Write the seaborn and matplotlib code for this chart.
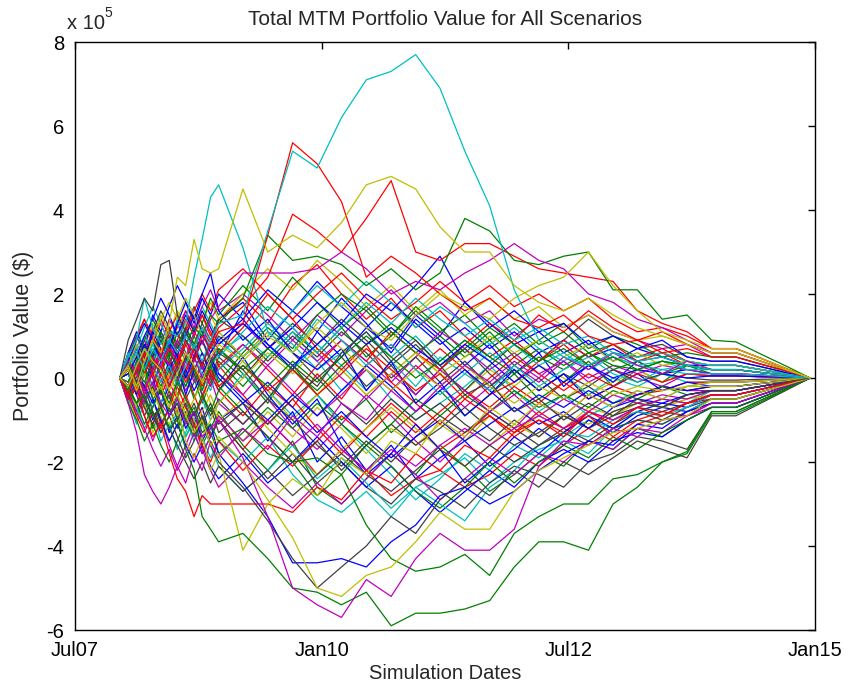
"""Total MTM portfolio value for all simulated scenarios."""

import matplotlib as mpl

mpl.use("Agg")
import matplotlib.pyplot as plt
import pandas as pd
import seaborn as sns

SETTLE = pd.Timestamp("2007-12-14")
# monthly for the first year, quarterly after that
MONTH_OFFSETS = list(range(0, 13)) + list(range(15, 85, 3))

# portfolio values per scenario, in units of 1e5 $
cyan_top = [0, 0.3, 0.6, 0.2, 0.7, 0.4, 0.9, 0.6, 1.0, 0.7, 1.2, 0.9, 1.3,
            1.5, 3.5, 5.4, 5.0, 6.2, 7.1, 7.3, 7.7, 6.9, 5.4, 4.1, 2.1, 0.9, 0.5, 0.3, 0.6, 0.4, 0.5, 0.3, 0.2, 0.2, 0.13, 0.07, 0]
red_peak = [0, -0.4, 0.2, 0.6, 0.1, 0.5, -0.2, 0.3, 0.8, 0.4, 1.0, 0.7, 1.1,
            1.3, 3.4, 5.6, 5.1, 4.2, 2.4, 2.9, 2.5, 2.0, 1.6, 1.9, 1.4, 1.2, 1.5, 1.0, 0.8, 0.9, 0.6, 0.7, 0.5, 0.5, 0.33, 0.17, 0]
yellow_hump = [0, 0.3, -0.2, 0.4, 0.9, 0.6, 1.3, 2.4, 2.2, 3.3, 2.6, 2.5, 2.6,
               4.5, 3.0, 3.4, 3.1, 3.7, 4.6, 4.8, 4.5, 3.6, 3.0, 3.0, 2.2, 1.8, 1.6, 1.9, 1.5, 1.2, 1.0, 0.8, 0.6, 0.6, 0.4, 0.2, 0]
cyan_early = [0, 0.5, 0.9, 1.9, 1.2, 0.8, 1.1, 1.0, 1.3, 2.4, 3.3, 4.3, 4.6,
              3.1, 1.1, 0.6, 1.4, 0.9, 0.3, 0.8, 0.2, -0.4, 0.1, -0.3, 0.3, -0.2, 0.2, 0.5, 0.1, -0.1, 0.2, 0.1, 0.1, 0.1, 0.07, 0.03, 0]
gray_early = [0, 0.9, 1.4, 1.9, 1.6, 2.7, 2.8, 1.5, 1.1, 0.7, 0.9, 0.4, 0.6,
              0.2, -0.5, 0.3, -0.2, 0.6, 1.1, 0.4, 0.9, 0.3, -0.4, -0.1, -0.8, -0.5, -1.0, -0.6, -0.9, -0.5, -0.7, -0.4, -0.3, -0.3, -0.2, -0.1, 0]
red_mid = [0, 0.2, -0.3, 0.1, 0.5, 0.2, 0.7, 0.4, 0.9, 0.6, 0.3, 0.8, 1.2,
           1.7, 2.4, 3.9, 3.5, 3.0, 3.8, 4.7, 3.0, 2.8, 3.2, 3.2, 2.9, 2.6, 2.5, 2.4, 2.3, 1.6, 1.3, 1.1, 0.7, 0.7, 0.47, 0.23, 0]
green_top = [0, -0.3, 0.2, -0.1, 0.4, 0.1, 0.6, 0.3, 0.8, 1.2, 1.0, 1.5, 1.3,
             1.9, 3.4, 2.8, 2.9, 2.7, 2.2, 2.6, 2.1, 2.5, 3.8, 3.5, 2.8, 2.7, 2.9, 3.0, 2.1, 2.1, 1.4, 1.5, 0.9, 0.86, 0.57, 0.29, 0]
magenta_top = [0, 0.4, 0.1, -0.3, 0.2, 0.6, 0.3, 0.9, 0.5, 1.1, 0.8, 1.4, 1.7,
               2.5, 2.5, 2.5, 2.6, 3.0, 2.6, 2.0, 2.3, 2.1, 2.5, 2.8, 3.2, 2.8, 2.6, 2.0, 1.8, 1.4, 1.2, 0.9, 0.6, 0.6, 0.4, 0.2, 0]
yellow_late = [0, -0.2, 0.3, 0.7, 0.4, 0.2, -0.3, 0.1, 0.6, 0.3, -0.1, 0.5, 0.8,
               0.4, 1.0, 0.6, 1.3, 1.8, 1.2, 0.9, 1.5, 2.0, 1.7, 1.4, 1.9, 2.2, 2.4, 3.0, 2.2, 1.6, 1.1, 0.9, 0.7, 0.7, 0.47, 0.23, 0]
green_bottom = [0, -0.3, -0.6, -0.4, -0.9, -0.7, -1.2, -1.0, -1.7, -2.2, -3.3, -3.6, -3.9,
                -3.7, -4.3, -5.0, -5.1, -5.4, -5.1, -5.9, -5.6, -5.6, -5.5, -5.3, -4.5, -3.9, -3.9, -4.1, -3.0, -2.6, -2.0, -1.8, -0.85, -0.85, -0.57, -0.28, 0]
green_low = [0, 0.4, -0.2, 0.3, -0.5, -0.3, -0.8, -0.6, -1.0, -0.7, -1.3, -1.1, -1.5,
             -1.2, -1.8, -2.0, -1.9, -2.3, -3.5, -4.3, -4.6, -4.5, -4.2, -4.7, -3.7, -3.3, -3.0, -3.0, -2.4, -2.3, -2.0, -1.75, -0.8, -0.8, -0.53, -0.27, 0]
magenta_bottom = [0, -0.2, 0.3, -0.4, -0.1, -0.6, -0.9, -0.5, -1.1, -0.8, -1.4, -1.2, -1.0,
                  -1.9, -3.3, -5.0, -5.4, -5.7, -4.8, -5.2, -4.3, -3.7, -4.1, -4.1, -3.6, -2.1, -1.5, -1.6, -1.2, -1.4, -1.0, -0.9, -0.6, -0.6, -0.4, -0.2, 0]
yellow_low = [0, 0.2, -0.3, 0.1, -0.4, -0.2, -0.7, -0.4, -0.9, -1.3, -1.0, -1.6, -1.4,
              -2.0, -2.9, -3.8, -5.0, -5.2, -4.7, -4.5, -3.9, -3.2, -3.6, -3.6, -2.7, -2.2, -1.9, -1.6, -1.3, -1.2, -1.0, -0.9, -0.5, -0.5, -0.33, -0.17, 0]
yellow_dip = [0, -0.3, 0.1, -0.5, -0.2, -0.8, -1.1, -0.7, -1.5, -1.9, -1.4, -2.2, -1.8,
              -4.1, -3.0, -2.4, -2.8, -1.9, -2.3, -1.5, -1.8, -1.0, -1.4, -0.7, -1.1, -0.6, -0.9, -0.4, -0.7, -0.3, -0.5, -0.2, -0.2, -0.2, -0.13, -0.07, 0]
blue_low = [0, -0.4, 0.1, -0.2, -0.6, -0.3, -0.9, -0.6, -1.2, -0.8, -1.5, -1.1, -1.8,
            -2.5, -3.3, -4.4, -4.4, -4.3, -4.5, -3.9, -3.5, -2.8, -2.6, -3.0, -2.7, -2.2, -1.8, -1.5, -1.6, -1.1, -1.2, -0.8, -0.6, -0.6, -0.4, -0.2, 0]
gray_low = [0, 0.3, -0.1, -0.5, -0.2, -0.7, -0.4, -1.0, -0.6, -1.3, -0.9, -1.6, -2.0,
            -2.6, -3.4, -4.3, -5.0, -4.5, -4.0, -3.3, -3.7, -2.9, -2.4, -2.8, -2.2, -2.6, -2.0, -2.3, -1.9, -1.5, -1.7, -1.9, -0.9, -0.9, -0.6, -0.3, 0]
red_low = [0, -0.5, -0.2, -0.9, -1.4, -1.1, -1.8, -2.4, -2.7, -3.3, -2.8, -3.0, -3.0,
           -3.0, -3.0, -3.2, -2.6, -2.9, -2.2, -2.5, -1.8, -2.2, -1.6, -1.9, -1.3, -1.0, -1.4, -0.8, -1.1, -0.7, -0.9, -0.6, -0.4, -0.4, -0.27, -0.13, 0]
magenta_early = [0, -0.6, -1.3, -2.3, -2.7, -3.0, -2.6, -2.1, -2.5, -1.8, -2.2, -1.5, -1.9,
                 -1.2, -1.7, -0.9, -1.4, -0.6, -1.0, -0.3, -0.8, -0.2, 0.3, -0.1, 0.4, 0.0, 0.5, 0.2, 0.6, 0.3, 0.1, 0.4, 0.2, 0.2, 0.13, 0.07, 0]

blue_a = [0, 0.5, 0.2, 0.8, 0.4, 1.0, 0.6, 1.3, 0.9, 0.5, 1.1, 0.7, 1.4,
          1.8, 0.9, 1.6, 1.1, 0.5, 1.2, 0.7, 1.5, 1.0, 1.8, 1.3, 0.8, 1.1, 0.6, 0.9, 0.4, 0.7, 0.5, 0.3, 0.3, 0.3, 0.2, 0.1, 0]
blue_b = [0, -0.3, -0.8, -0.4, -1.0, -0.6, -1.3, -0.9, -0.5, -1.1, -0.7, -1.4, -1.0,
          -0.6, -1.5, -0.8, -2.0, -1.4, -2.2, -1.6, -2.4, -1.9, -1.5, -2.1, -1.7, -1.2, -1.6, -1.0, -1.3, -0.9, -0.7, -0.8, -0.5, -0.5, -0.33, -0.17, 0]
blue_c = [0, 0.2, 0.7, 0.3, -0.2, 0.4, 0.9, 0.5, 1.2, 0.8, 0.3, 0.9, 0.5,
          1.6, 0.8, 0.2, 1.1, 1.9, 1.3, 0.6, 1.4, 0.9, 0.3, 0.8, 0.1, 0.6, -0.2, 0.3, -0.1, 0.4, 0.1, 0.2, 0.1, 0.1, 0.07, 0.03, 0]
blue_d = [0, -0.5, -0.1, 0.4, 0.0, -0.6, -0.2, 0.3, -0.4, 0.2, 0.6, 0.1, -0.3,
          0.5, -0.4, -1.1, -0.5, -1.6, -2.3, -1.8, -1.1, -1.7, -2.5, -2.0, -1.4, -1.8, -1.3, -0.9, -1.2, -0.8, -0.6, -0.7, -0.4, -0.4, -0.27, -0.13, 0]
blue_e = [0, 0.3, 0.8, 0.4, 1.1, 0.7, 0.2, 0.6, 1.0, 1.5, 1.1, 0.6, 0.9,
          1.4, 0.7, 1.2, 1.8, 1.3, 2.0, 1.6, 2.2, 2.9, 1.8, 1.2, 1.6, 1.1, 1.3, 0.8, 1.0, 0.7, 0.9, 0.5, 0.4, 0.4, 0.27, 0.13, 0]
blue_f = [0, -0.2, 0.3, 0.8, 0.5, 1.1, 0.7, 1.3, 1.8, 1.4, 2.0, 2.5, 1.6,
          0.9, 1.4, 0.6, 0.2, 0.7, -0.3, 0.4, -0.6, -0.1, -0.9, -0.4, 0.2, -0.3, 0.1, -0.5, -0.2, 0.1, -0.3, -0.1, -0.2, -0.2, -0.13, -0.07, 0]
green_a = [0, 0.3, 0.7, 0.2, 0.9, 0.5, 1.2, 0.8, 0.4, 1.0, 0.6, 0.2, 0.7,
           0.1, -0.6, 0.3, -0.4, -1.0, -0.5, -1.3, -0.8, -0.3, -0.9, -0.4, 0.1, -0.5, -0.1, 0.4, -0.2, 0.2, -0.1, 0.3, 0.1, 0.1, 0.07, 0.03, 0]
green_b = [0, -0.4, -0.9, -0.5, -1.2, -0.8, -0.3, -0.9, -1.4, -1.0, -1.6, -1.2, -0.8,
           -1.6, -2.2, -1.5, -2.6, -3.0, -2.4, -1.8, -2.3, -1.6, -2.1, -2.7, -2.3, -1.8, -2.1, -1.5, -1.7, -1.2, -1.4, -1.0, -0.7, -0.7, -0.47, -0.23, 0]
green_c = [0, 0.2, -0.2, 0.5, 0.1, -0.3, 0.2, -0.4, 0.1, -0.5, 0.0, 0.4, -0.1,
           0.6, 1.2, 0.7, 1.5, 2.0, 1.6, 1.0, 1.7, 1.2, 0.6, 1.1, 0.5, 0.9, 1.3, 0.7, 1.0, 0.8, 0.5, 0.6, 0.5, 0.5, 0.33, 0.17, 0]
green_d = [0, -0.1, 0.4, 0.9, 1.4, 1.0, 0.5, 1.1, 0.6, 0.2, -0.3, 0.3, -0.2,
           -0.8, -1.4, -2.0, -2.8, -2.3, -1.6, -2.1, -2.7, -3.1, -2.6, -2.0, -2.5, -2.0, -1.6, -1.9, -1.4, -1.7, -1.3, -1.0, -0.7, -0.7, -0.47, -0.23, 0]
red_a = [0, 0.6, 1.0, 1.4, 0.9, 1.3, 0.8, 1.2, 1.6, 1.1, 1.5, 1.0, 1.4,
         1.9, 1.3, 2.2, 2.7, 2.0, 1.4, 1.9, 1.2, 1.6, 1.0, 0.5, 0.9, 0.4, 0.8, 0.3, 0.6, 0.5, 0.7, 0.4, 0.3, 0.3, 0.2, 0.1, 0]
red_b = [0, -0.6, -0.2, -0.7, -1.1, -0.6, -0.1, -0.5, 0.1, -0.4, -0.9, -1.4, -1.0,
         -1.7, -1.0, -1.6, -2.3, -1.7, -2.2, -2.8, -2.4, -2.2, -2.6, -2.3, -1.8, -2.1, -1.6, -1.2, -1.5, -1.1, -0.9, -0.6, -0.5, -0.5, -0.33, -0.17, 0]
red_c = [0, 0.4, -0.1, 0.5, 0.9, 1.4, 1.0, 0.6, 0.2, 0.7, 1.2, 0.8, 0.3,
         0.8, 0.2, -0.4, 0.3, 0.9, 0.4, 1.1, 0.6, 0.2, 0.8, 1.3, 0.9, 1.5, 1.1, 1.6, 1.2, 0.9, 1.1, 0.8, 0.6, 0.6, 0.4, 0.2, 0]
red_d = [0, 0.2, 0.6, 0.1, -0.4, 0.1, -0.3, -0.8, -0.4, -0.9, -0.5, 0.1, -0.3,
         -0.9, -0.2, -0.7, 0.1, -0.5, 0.3, 0.8, 0.2, 0.7, 0.2, -0.4, -0.1, 0.4, 0.9, 0.5, 0.8, 0.4, 0.6, 0.3, 0.2, 0.2, 0.13, 0.07, 0]
red_e = [0, -0.3, 0.1, -0.4, 0.2, 0.7, 0.3, 0.9, 1.4, 1.0, 1.5, 1.1, 0.6,
         1.2, 2.0, 1.4, 0.7, 0.2, 0.8, -0.1, -0.6, -1.1, -0.5, -0.9, -1.3, -0.8, -1.2, -0.9, -1.4, -1.0, -0.8, -0.9, -0.6, -0.6, -0.4, -0.2, 0]
cyan_a = [0, 0.4, -0.1, 0.3, 0.8, 0.4, 0.9, 1.3, 0.8, 1.2, 1.7, 1.3, 0.9,
          0.4, -0.3, -0.9, -0.4, -1.1, -1.7, -2.3, -2.9, -2.4, -1.8, -2.2, -1.6, -1.9, -1.4, -1.0, -1.2, -0.8, -0.9, -0.6, -0.3, -0.3, -0.2, -0.1, 0]
cyan_b = [0, -0.3, -0.7, -1.2, -0.8, -1.5, -1.1, -1.7, -1.3, -0.8, -1.4, -1.9, -1.5,
          -2.0, -1.4, -2.3, -2.9, -3.2, -2.7, -3.3, -2.6, -2.3, -1.9, -2.5, -2.0, -1.7, -1.5, -1.8, -1.2, -1.0, -1.1, -0.8, -0.5, -0.5, -0.33, -0.17, 0]
cyan_c = [0, 0.2, 0.6, 1.0, 0.6, 0.2, 0.7, 0.3, -0.2, 0.3, -0.3, 0.2, 0.6,
          1.0, 0.5, 1.1, 0.4, -0.3, 0.2, -0.5, -1.0, -0.6, -0.2, 0.3, -0.3, -0.8, -0.4, -0.9, -0.6, -0.3, -0.5, -0.2, -0.1, -0.1, -0.07, -0.03, 0]
cyan_d = [0, -0.2, 0.2, -0.3, -0.7, -0.3, -0.9, -0.5, -1.0, -1.5, -1.1, -1.6, -2.1,
          -2.7, -2.2, -1.6, -2.4, -1.9, -2.5, -3.1, -2.6, -3.0, -3.4, -2.6, -2.2, -1.6, -1.3, -1.4, -1.0, -0.8, -0.9, -0.7, -0.4, -0.4, -0.27, -0.13, 0]
magenta_a = [0, 0.3, 0.8, 0.5, 1.2, 0.8, 1.4, 1.0, 1.6, 1.2, 1.7, 2.1, 1.6,
             2.0, 1.5, 0.9, 1.5, 1.0, 1.6, 2.1, 1.5, 1.8, 1.3, 1.6, 1.0, 1.4, 1.2, 1.5, 1.1, 0.9, 0.7, 0.8, 0.5, 0.5, 0.33, 0.17, 0]
magenta_b = [0, -0.4, -0.1, -0.6, -0.2, 0.3, -0.2, 0.2, -0.3, 0.1, -0.4, 0.0, -0.6,
             -1.1, -0.5, -1.2, -1.7, -1.1, -0.4, -0.9, -1.5, -2.0, -1.4, -0.8, -1.2, -0.6, -0.9, -0.4, -0.7, -0.4, -0.2, -0.3, -0.3, -0.3, -0.2, -0.1, 0]
magenta_c = [0, 0.5, 0.1, 0.6, 0.2, -0.3, 0.1, 0.5, 0.0, 0.4, 0.9, 0.5, 0.1,
             -0.4, 0.3, 0.9, 0.4, 0.9, 0.4, -0.1, 0.5, 1.1, 0.7, 0.2, 0.6, 0.1, 0.4, 0.0, 0.3, 0.1, 0.3, 0.2, 0.1, 0.1, 0.07, 0.03, 0]
yellow_a = [0, 0.5, 1.1, 0.7, 1.3, 0.9, 0.4, 0.9, 0.5, 0.1, 0.6, 0.2, -0.2,
            0.4, -0.3, -1.0, -0.4, 0.2, -0.4, 0.1, 0.6, 0.1, -0.3, 0.2, -0.2, 0.3, 0.0, -0.4, -0.1, 0.2, -0.1, 0.1, 0.05, 0.05, 0.03, 0.02, 0]
yellow_b = [0, -0.5, -1.0, -0.6, -1.3, -0.9, -1.5, -1.1, -0.7, -1.2, -0.8, -0.4, -0.9,
            -1.5, -0.8, -1.4, -0.7, -1.2, -1.8, -1.2, -1.6, -1.1, -1.5, -0.9, -1.3, -0.9, -1.2, -0.7, -0.9, -0.6, -0.7, -0.5, -0.4, -0.4, -0.27, -0.13, 0]
gray_a = [0, -0.4, 0.1, -0.3, 0.3, -0.1, 0.4, 0.0, -0.5, -0.1, 0.4, 0.0, 0.5,
          0.0, 0.7, 1.3, 0.8, 1.4, 0.9, 0.3, 0.8, 0.2, 0.7, 0.1, -0.4, 0.0, -0.5, -0.2, -0.6, -0.4, -0.2, -0.3, -0.2, -0.2, -0.13, -0.07, 0]
gray_b = [0, 0.1, -0.4, -0.9, -0.5, -1.1, -0.7, -1.2, -0.8, -1.3, -1.8, -1.4, -1.0,
          -1.7, -2.4, -1.8, -2.5, -2.0, -2.6, -3.0, -2.4, -2.7, -3.1, -2.5, -2.1, -2.3, -2.6, -2.0, -1.8, -1.4, -1.5, -1.7, -0.8, -0.8, -0.53, -0.27, 0]
gray_c = [0, 0.4, 0.0, 0.5, 0.1, 0.6, 1.0, 0.6, 1.1, 0.7, 0.2, 0.6, 1.0,
          0.5, 1.1, 0.6, 0.0, 0.5, -0.2, 0.3, -0.4, 0.2, -0.3, 0.3, 0.8, 0.4, 0.9, 1.4, 1.0, 0.7, 0.8, 0.5, 0.4, 0.4, 0.27, 0.13, 0]
gray_d = [0, -0.2, -0.6, -0.2, -0.8, -1.3, -0.9, -0.4, -1.0, -0.6, -1.1, -0.7, -1.3,
          -0.8, -1.4, -2.0, -1.5, -2.2, -1.6, -1.1, -1.6, -1.2, -0.7, -1.2, -1.6, -1.3, -0.9, -1.2, -0.8, -0.6, -0.7, -0.4, -0.3, -0.3, -0.2, -0.1, 0]

blue_g = [0, 0.6, 1.1, 0.7, 1.5, 1.1, 1.7, 2.2, 1.8, 1.3, 1.9, 1.5, 2.0,
          1.4, 2.1, 1.6, 2.3, 1.7, 1.2, 1.8, 1.3, 0.8, 1.2, 0.7, 1.1, 0.6, 0.9, 0.5, 0.7, 0.4, 0.5, 0.3, 0.3, 0.3, 0.2, 0.1, 0]
green_e = [0, -0.2, 0.3, 0.8, 0.3, 0.9, 0.4, -0.1, 0.5, 0.0, -0.6, -0.1, 0.4,
           -0.2, 0.5, 1.1, 0.6, 1.2, 0.5, 1.0, 1.6, 1.1, 1.5, 0.9, 1.3, 0.8, 1.1, 0.6, 0.8, 0.5, 0.6, 0.4, 0.3, 0.3, 0.2, 0.1, 0]
red_f = [0, 0.3, 0.9, 1.4, 1.0, 0.5, 1.1, 0.6, 0.1, 0.7, 0.3, -0.2, 0.3,
         -0.4, -1.1, -0.5, -1.2, -1.8, -1.2, -0.6, -1.1, -1.7, -1.3, -0.9, -1.4, -1.0, -1.3, -0.8, -1.0, -0.7, -0.5, -0.6, -0.4, -0.4, -0.27, -0.13, 0]
cyan_e = [0, -0.5, -1.1, -0.6, -0.2, -0.7, -1.2, -0.8, -1.4, -1.0, -0.5, -1.0, -0.6,
          0.1, -0.5, 0.2, 0.8, 0.3, -0.3, 0.4, -0.2, 0.5, 0.1, 0.6, 0.2, -0.3, 0.1, -0.4, 0.0, -0.2, 0.1, -0.1, -0.1, -0.1, -0.07, -0.03, 0]
magenta_d = [0, 0.2, -0.4, -0.9, -1.5, -1.0, -1.6, -2.1, -1.6, -1.1, -1.7, -2.2, -2.6,
             -2.0, -2.6, -3.1, -2.5, -3.0, -2.4, -1.8, -2.3, -2.9, -2.4, -1.9, -2.3, -1.8, -2.0, -1.5, -1.7, -1.2, -1.3, -0.9, -0.7, -0.7, -0.47, -0.23, 0]
yellow_c = [0, 0.4, 0.0, 0.6, 1.0, 1.5, 1.1, 1.6, 1.2, 0.8, 1.3, 1.8, 1.4,
            2.0, 2.6, 2.1, 2.8, 2.3, 1.7, 2.2, 1.6, 2.1, 1.5, 1.9, 1.4, 1.7, 1.2, 1.5, 1.1, 0.9, 1.0, 0.8, 0.6, 0.6, 0.4, 0.2, 0]
gray_e = [0, -0.3, 0.2, -0.2, 0.4, 0.9, 0.5, 0.0, 0.5, 0.1, -0.4, -0.9, -0.5,
          -1.1, -0.5, -1.0, -1.6, -2.1, -1.5, -2.0, -1.4, -0.9, -1.3, -0.8, -1.2, -1.6, -1.2, -1.5, -1.1, -0.8, -1.0, -0.7, -0.5, -0.5, -0.33, -0.17, 0]
blue_h = [0, 0.1, -0.4, 0.1, -0.5, -1.0, -1.5, -1.1, -1.6, -2.0, -1.6, -2.1, -2.4,
          -1.8, -2.5, -2.0, -1.4, -2.0, -2.6, -2.1, -2.7, -3.2, -2.7, -2.2, -2.6, -2.0, -1.7, -2.0, -1.5, -1.3, -1.4, -1.0, -0.7, -0.7, -0.47, -0.23, 0]
green_f = [0, 0.5, 0.1, -0.3, 0.2, -0.2, 0.3, 0.8, 1.2, 0.8, 1.3, 1.9, 1.5,
           2.2, 1.6, 2.4, 1.8, 1.2, 1.7, 1.1, 0.6, 1.0, 0.5, 0.9, 0.3, 0.7, 0.3, 0.6, 0.2, 0.4, 0.1, 0.3, 0.2, 0.2, 0.13, 0.07, 0]
red_g = [0, -0.4, -0.9, -1.3, -0.8, -1.2, -0.7, -0.2, -0.7, -1.1, -1.6, -2.0, -1.5,
         -2.2, -1.6, -2.1, -1.5, -0.9, -1.4, -0.8, -1.3, -0.8, -0.3, -0.7, -0.2, -0.6, -0.1, -0.5, -0.2, -0.4, -0.3, -0.1, -0.1, -0.1, -0.07, -0.03, 0]
cyan_f = [0, 0.3, 0.7, 1.2, 1.7, 1.3, 0.8, 1.4, 1.0, 1.5, 1.1, 0.7, 1.1,
          0.5, 1.0, 1.6, 2.2, 1.7, 2.3, 1.8, 1.2, 1.7, 1.3, 0.8, 1.2, 0.7, 0.4, 0.8, 0.5, 0.3, 0.4, 0.2, 0.2, 0.2, 0.13, 0.07, 0]
magenta_e = [0, -0.1, 0.4, 0.9, 0.5, 0.0, -0.5, -0.1, 0.4, -0.1, 0.3, -0.2, 0.2,
             0.8, 0.3, -0.3, -0.9, -0.4, 0.2, -0.3, 0.3, -0.2, -0.7, -0.2, 0.3, -0.1, 0.4, -0.1, 0.2, 0.0, -0.2, 0.1, 0.05, 0.05, 0.03, 0.02, 0]
yellow_d = [0, -0.2, -0.7, -0.3, 0.2, -0.3, 0.1, -0.4, -0.9, -0.5, -0.1, -0.6, -1.0,
            -0.5, -1.2, -1.8, -2.3, -1.7, -1.2, -0.7, -1.2, -1.7, -2.1, -1.6, -1.1, -1.4, -0.9, -1.1, -0.8, -0.6, -0.7, -0.5, -0.3, -0.3, -0.2, -0.1, 0]
gray_f = [0, 0.5, 1.0, 0.6, 1.1, 1.6, 1.2, 0.7, 1.2, 1.7, 1.3, 0.9, 1.4,
          1.0, 0.4, 1.0, 0.5, 1.1, 0.6, 0.0, 0.5, -0.1, 0.4, -0.2, 0.2, -0.3, 0.1, -0.2, 0.2, -0.1, 0.1, 0.0, -0.05, -0.05, -0.03, -0.02, 0]
blue_i = [0, -0.3, 0.2, 0.6, 0.2, 0.7, 0.3, -0.2, 0.2, -0.3, 0.1, 0.5, 0.1,
          -0.5, -1.0, -0.4, -0.9, -0.3, 0.3, -0.2, -0.8, -0.3, 0.2, -0.3, -0.8, -0.4, -0.7, -0.3, -0.6, -0.4, -0.2, -0.3, -0.2, -0.2, -0.13, -0.07, 0]
green_g = [0, -0.6, -1.0, -1.5, -1.1, -1.6, -2.0, -1.5, -1.0, -1.4, -0.9, -1.3, -1.8,
           -1.3, -0.7, -1.2, -0.6, -1.1, -1.6, -1.1, -0.5, -0.9, -0.4, -0.8, -0.3, -0.7, -0.4, -0.7, -0.3, -0.5, -0.2, -0.4, -0.3, -0.3, -0.2, -0.1, 0]
red_h = [0, 0.5, 0.1, 0.5, 1.0, 0.6, 1.1, 1.5, 1.1, 1.6, 2.0, 1.6, 2.1,
         2.6, 2.0, 1.4, 2.0, 2.5, 1.9, 1.4, 1.8, 2.3, 1.8, 2.2, 1.7, 2.0, 1.6, 1.9, 1.4, 1.1, 1.2, 1.0, 0.7, 0.7, 0.47, 0.23, 0]
cyan_g = [0, 0.1, -0.3, 0.2, -0.2, -0.6, -0.1, 0.4, 0.0, 0.5, 0.1, -0.3, 0.2,
          0.7, 1.3, 0.8, 0.2, 0.6, 1.1, 0.5, 1.0, 0.4, 0.9, 0.4, 0.8, 0.3, 0.6, 0.2, 0.5, 0.3, 0.2, 0.3, 0.2, 0.2, 0.13, 0.07, 0]
magenta_f = [0, 0.3, -0.2, -0.6, -0.1, 0.3, 0.8, 0.4, 0.9, 0.5, 0.0, 0.4, 0.8,
             1.3, 0.7, 1.2, 0.6, 0.0, -0.5, 0.1, -0.4, 0.2, -0.3, -0.8, -0.4, -0.9, -0.5, -0.8, -0.4, -0.6, -0.4, -0.5, -0.3, -0.3, -0.2, -0.1, 0]
yellow_e = [0, 0.2, 0.6, 0.2, -0.3, -0.8, -0.4, -0.9, -0.5, -1.0, -1.4, -1.0, -0.6,
            0.0, 0.6, 0.1, 0.7, 0.2, -0.4, 0.1, 0.6, 0.1, 0.5, 1.0, 0.6, 0.9, 0.5, 0.8, 0.4, 0.6, 0.3, 0.4, 0.3, 0.3, 0.2, 0.1, 0]
gray_g = [0, -0.5, -0.1, -0.5, -0.9, -1.3, -0.9, -1.4, -1.9, -1.5, -1.0, -0.6, -1.1,
          -0.6, -1.1, -0.5, 0.0, -0.6, -1.1, -0.5, -1.0, -0.6, -1.1, -1.5, -1.0, -1.4, -0.9, -1.2, -0.9, -0.7, -0.8, -0.6, -0.4, -0.4, -0.27, -0.13, 0]
blue_j = [0, 0.4, 0.9, 1.3, 0.9, 0.4, 0.9, 0.5, 0.0, 0.5, 0.9, 0.4, 0.0,
          -0.6, -0.1, -0.7, -1.3, -0.8, -1.4, -1.9, -1.4, -1.0, -1.5, -1.1, -0.7, -1.1, -0.8, -1.2, -0.7, -0.5, -0.6, -0.4, -0.3, -0.3, -0.2, -0.1, 0]
green_h = [0, 0.1, 0.5, 0.1, 0.6, 1.1, 0.7, 0.2, -0.2, 0.3, -0.1, 0.3, 0.7,
           0.2, 0.7, 0.2, -0.3, 0.3, 0.8, 1.3, 0.9, 0.3, 0.7, 1.2, 0.8, 0.4, 0.7, 0.3, 0.5, 0.2, 0.4, 0.3, 0.2, 0.2, 0.13, 0.07, 0]
red_i = [0, -0.2, 0.2, -0.3, 0.1, -0.4, 0.0, 0.4, -0.1, 0.3, -0.2, 0.2, -0.2,
         0.3, -0.3, 0.2, -0.4, 0.1, 0.7, 0.2, -0.3, 0.1, -0.5, 0.0, 0.5, 0.1, -0.3, 0.1, -0.2, 0.1, -0.1, 0.1, 0.05, 0.05, 0.03, 0.02, 0]
cyan_h = [0, 0.6, 0.2, 0.7, 0.3, -0.1, 0.3, -0.2, 0.3, 0.8, 0.4, 0.9, 0.5,
          1.1, 1.7, 1.2, 0.6, 1.2, 1.8, 1.3, 1.9, 1.4, 1.0, 1.4, 0.9, 1.2, 0.8, 1.0, 0.6, 0.5, 0.6, 0.4, 0.3, 0.3, 0.2, 0.1, 0]
magenta_g = [0, -0.3, -0.8, -1.2, -1.7, -2.1, -1.7, -2.2, -1.8, -1.3, -1.8, -1.4, -0.9,
             -1.5, -1.0, -1.6, -1.1, -1.7, -2.2, -1.7, -2.1, -1.6, -1.2, -1.6, -1.2, -0.9, -1.2, -0.8, -1.0, -0.7, -0.5, -0.6, -0.4, -0.4, -0.27, -0.13, 0]
yellow_f = [0, 0.3, 0.8, 0.4, 0.9, 1.4, 1.8, 1.4, 1.9, 1.5, 1.0, 1.5, 1.1,
            0.5, 1.1, 0.6, 1.2, 0.7, 0.2, -0.3, 0.2, -0.2, 0.3, -0.2, -0.6, -0.2, -0.5, -0.1, -0.4, -0.2, -0.3, -0.2, -0.1, -0.1, -0.07, -0.03, 0]
gray_h = [0, 0.2, -0.3, -0.7, -1.1, -0.7, -1.2, -1.6, -2.0, -2.4, -2.0, -2.5, -2.1,
          -2.7, -2.2, -2.8, -2.3, -1.8, -2.3, -2.7, -2.2, -1.7, -2.1, -1.6, -2.0, -1.6, -1.3, -1.6, -1.2, -1.0, -1.1, -0.8, -0.6, -0.6, -0.4, -0.2, 0]
blue_k = [0, 0.1, 0.5, 1.0, 1.4, 1.9, 1.5, 1.0, 1.5, 1.1, 1.6, 1.2, 0.8,
          1.3, 0.8, 0.3, 0.8, 1.3, 0.8, 1.2, 0.7, 0.3, 0.8, 0.4, -0.1, 0.3, -0.1, 0.3, 0.0, 0.2, 0.1, 0.0, 0.05, 0.05, 0.03, 0.02, 0]
green_i = [0, -0.2, -0.6, -1.1, -0.7, -0.2, -0.6, -0.1, -0.5, -0.9, -0.4, -0.8, -0.3,
           0.3, -0.2, 0.4, -0.1, 0.5, 1.0, 0.5, 0.0, 0.4, 0.9, 0.5, 0.1, 0.5, 0.2, 0.6, 0.3, 0.2, 0.4, 0.3, 0.2, 0.2, 0.13, 0.07, 0]

SCENARIOS = [
    blue_a, green_a, red_a, cyan_a, magenta_a, yellow_a, gray_a,
    blue_b, green_b, red_b, cyan_b, magenta_b, yellow_b, gray_b,
    blue_g, green_e, red_f, cyan_e, magenta_d, yellow_c, gray_e,
    blue_c, green_c, red_c, cyan_c, magenta_c, gray_c,
    blue_h, green_f, red_g, cyan_f, magenta_e, yellow_d, gray_f,
    blue_d, green_d, red_d, cyan_d, gray_d,
    blue_i, green_g, red_h, cyan_g, magenta_f, yellow_e, gray_g,
    blue_e, red_e, blue_f,
    blue_j, green_h, red_i, cyan_h, magenta_g, yellow_f, gray_h,
    blue_k, green_i,
    blue_low, green_low, red_low, cyan_early, magenta_early, yellow_dip, gray_low,
    green_bottom, red_mid, magenta_bottom, yellow_low, gray_early,
    green_top, red_peak, magenta_top, yellow_late, cyan_top, yellow_hump,
]
SCENARIO_COLORS = [
    "b", "g", "r", "c", "m", "y", "k",
    "b", "g", "r", "c", "m", "y", "k",
    "b", "g", "r", "c", "m", "y", "k",
    "b", "g", "r", "c", "m", "k",
    "b", "g", "r", "c", "m", "y", "k",
    "b", "g", "r", "c", "k",
    "b", "g", "r", "c", "m", "y", "k",
    "b", "r", "b",
    "b", "g", "r", "c", "m", "y", "k",
    "b", "g",
    "b", "g", "r", "c", "m", "y", "k",
    "g", "r", "m", "y", "k",
    "g", "r", "m", "y", "c", "y",
]

# old MATLAB default colour order
MATLAB_COLORS = {
    "b": (0.0, 0.0, 1.0),
    "g": (0.0, 0.5, 0.0),
    "r": (1.0, 0.0, 0.0),
    "c": (0.0, 0.75, 0.75),
    "m": (0.75, 0.0, 0.75),
    "y": (0.75, 0.75, 0.0),
    "k": (0.25, 0.25, 0.25),
}

X_TICKS = ["2007-07-01", "2010-01-01", "2012-07-01", "2015-01-01"]
X_TICK_LABELS = ["Jul07", "Jan10", "Jul12", "Jan15"]
Y_TICKS = [-6, -4, -2, 0, 2, 4, 6, 8]

FONT_SIZE = 14.5


def build_frame() -> pd.DataFrame:
    dates = [SETTLE + pd.DateOffset(months=m) for m in MONTH_OFFSETS]
    rows = []
    for i, values in enumerate(SCENARIOS):
        assert len(values) == len(dates), (i, len(values))
        for date, value in zip(dates, values):
            rows.append({"date": date, "value": value * 1e5, "scenario": f"s{i:02d}"})
    return pd.DataFrame(rows)


def main() -> None:
    sns.set_theme(style="white")
    plt.rcParams["font.family"] = ["Liberation Sans", "DejaVu Sans"]

    assert len(SCENARIOS) == len(SCENARIO_COLORS)
    df = build_frame()
    palette = {f"s{i:02d}": MATLAB_COLORS[c] for i, c in enumerate(SCENARIO_COLORS)}

    fig = plt.figure(figsize=(8.51, 6.88), dpi=100)
    ax = fig.add_axes([75 / 851, 58 / 688, 740 / 851, 588 / 688])

    sns.lineplot(data=df, x="date", y="value", hue="scenario", palette=palette,
                 estimator=None, sort=False, legend=False, linewidth=0.9, ax=ax)

    ax.set_xlim(pd.Timestamp(X_TICKS[0]), pd.Timestamp(X_TICKS[-1]))
    ax.set_xticks([pd.Timestamp(t) for t in X_TICKS])
    ax.set_xticklabels(X_TICK_LABELS)
    ax.set_ylim(-6e5, 8e5)
    ax.set_yticks([t * 1e5 for t in Y_TICKS])
    ax.set_yticklabels([str(t) for t in Y_TICKS])

    ax.tick_params(direction="in", top=True, right=True, length=5, width=1,
                   labelsize=FONT_SIZE, colors="black")
    ax.tick_params(axis="x", pad=8)
    ax.tick_params(axis="y", pad=8)
    for spine in ax.spines.values():
        spine.set_visible(True)
        spine.set_color("black")
        spine.set_linewidth(1)

    ax.set_xlabel("Simulation Dates", fontsize=FONT_SIZE, labelpad=3)
    ax.set_ylabel("Portfolio Value ($)", fontsize=15.5, labelpad=9)
    ax.set_title("Total MTM Portfolio Value for All Scenarios", fontsize=15, pad=12)

    fig.text(67 / 851, 1 - 29 / 688, "x 10", fontsize=FONT_SIZE, ha="left", va="baseline")
    fig.text(104 / 851, 1 - 17 / 688, "5", fontsize=10, ha="left", va="baseline")

    fig.savefig("out.png", dpi=100, facecolor="white")


if __name__ == "__main__":
    main()
